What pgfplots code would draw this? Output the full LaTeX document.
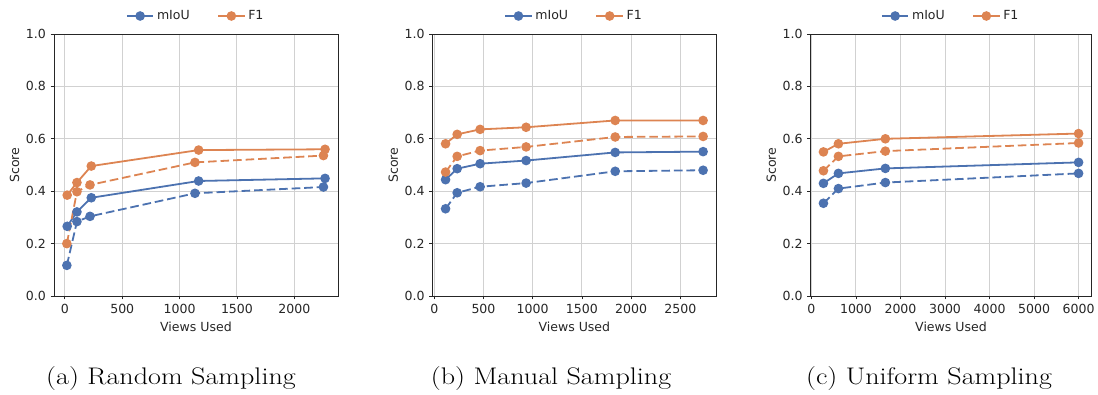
\documentclass[border=0pt]{standalone}
\usepackage{pgfplots}
\pgfplotsset{compat=1.18}
\usepackage{fontspec}
\newfontfamily\dejavu{DejaVu Sans}
\definecolor{cblue}{HTML}{4C72B0}
\definecolor{corange}{HTML}{DD8452}
\pgfplotsset{
  panel/.style={
    scale only axis, anchor=south west, height=196.5pt,
    ymin=0, ymax=1, ytick={0,0.2,0.4,0.6,0.8,1},
    yticklabel style={/pgf/number format/fixed, /pgf/number format/fixed zerofill, /pgf/number format/precision=1},
    xticklabel style={/pgf/number format/1000 sep={}},
    scaled ticks=false,
    /pgf/number format/assume math mode=true,
    tick label style={font=\dejavu\fontsize{9.4}{10}\selectfont, black!85},
    label style={font=\dejavu\fontsize{9.4}{10}\selectfont, black!85},
    xlabel={Views Used}, ylabel={Score},
    xlabel style={at={([yshift=-23pt]axis description cs:0.5,0)}, anchor=center},
    ylabel style={at={([xshift=-29.5pt]axis description cs:0,0.5)}, anchor=center},
    grid=major, major grid style={color=black!18, line width=0.75pt},
    axis line style={line width=0.6pt, black!85},
    tick align=outside, xtick pos=bottom, ytick pos=left,
    major tick length=2.6pt, tick style={black!85, line width=0.6pt},
    legend style={at={(0.5,1)}, anchor=center, yshift=13.5pt, draw=none, fill=none,
      font=\dejavu\fontsize{9.4}{10}\selectfont, text=black!85, legend columns=2,
      /tikz/every even column/.append style={column sep=18.5pt}},
    legend cell align=left,
    legend image code/.code={\draw[mark repeat=2,mark phase=2,#1] plot coordinates {(0pt,0pt) (10pt,0pt) (20pt,0pt)};},
  },
  sl/.style={line width=1.35pt, mark=*, mark size=2.9pt, mark options={solid}},
  dl/.style={line width=1.35pt, mark=*, mark size=2.9pt, mark options={solid}, dash pattern=on 6.5pt off 2.9pt, forget plot},
}
\tikzset{subcap/.style={anchor=base, font=\fontsize{18}{21}\selectfont, xscale=1.17, transform shape}}
\begin{document}
\begin{tikzpicture}
\path[use as bounding box] (0,0) rectangle (823.5pt,295.5pt);
% (a) Random
\begin{axis}[panel, at={(40.5pt,73.5pt)}, width=213pt, xmin=-95, xmax=2381, xtick={0,500,1000,1500,2000}]
\addplot[sl, cblue] coordinates {(20,0.266) (105,0.321) (230,0.375) (1166,0.439) (2268,0.449)};
\addlegendentry{mIoU}
\addplot[sl, corange] coordinates {(20,0.385) (105,0.433) (230,0.496) (1166,0.557) (2268,0.560)};
\addlegendentry{F1}
\addplot[dl, cblue] coordinates {(17,0.117) (105,0.284) (219,0.304) (1134,0.392) (2254,0.416)};
\addplot[dl, corange] coordinates {(17,0.200) (105,0.398) (219,0.424) (1134,0.510) (2254,0.536)};
\end{axis}
% (b) Manual
\begin{axis}[panel, at={(324.5pt,73.5pt)}, width=212.5pt, xmin=-16, xmax=2862, xtick={0,500,1000,1500,2000,2500}]
\addplot[sl, cblue] coordinates {(115,0.444) (233,0.486) (466,0.505) (933,0.517) (1838,0.548) (2731,0.551)};
\addlegendentry{mIoU}
\addplot[sl, corange] coordinates {(115,0.581) (233,0.617) (466,0.636) (933,0.644) (1838,0.670) (2731,0.670)};
\addlegendentry{F1}
\addplot[dl, cblue] coordinates {(115,0.333) (233,0.394) (466,0.417) (933,0.431) (1838,0.476) (2731,0.480)};
\addplot[dl, corange] coordinates {(115,0.473) (233,0.533) (466,0.555) (933,0.569) (1838,0.607) (2731,0.609)};
\end{axis}
% (c) Uniform
\begin{axis}[panel, at={(608pt,73.5pt)}, width=210.5pt, xmin=-17.5, xmax=6286.5, xtick={0,1000,2000,3000,4000,5000,6000}]
\addplot[sl, cblue] coordinates {(269,0.430) (606,0.468) (1660,0.487) (6000,0.510)};
\addlegendentry{mIoU}
\addplot[sl, corange] coordinates {(269,0.550) (606,0.581) (1660,0.600) (6000,0.620)};
\addlegendentry{F1}
\addplot[dl, cblue] coordinates {(269,0.354) (606,0.410) (1660,0.433) (6000,0.468)};
\addplot[dl, corange] coordinates {(269,0.478) (606,0.533) (1660,0.553) (6000,0.584)};
\end{axis}
\node[subcap] at (128.25pt,7.2pt) {(a) Random Sampling};
\node[subcap] at (413.25pt,7.2pt) {(b) Manual Sampling};
\node[subcap] at (696.75pt,7.2pt) {(c) Uniform Sampling};
\end{tikzpicture}
\end{document}
